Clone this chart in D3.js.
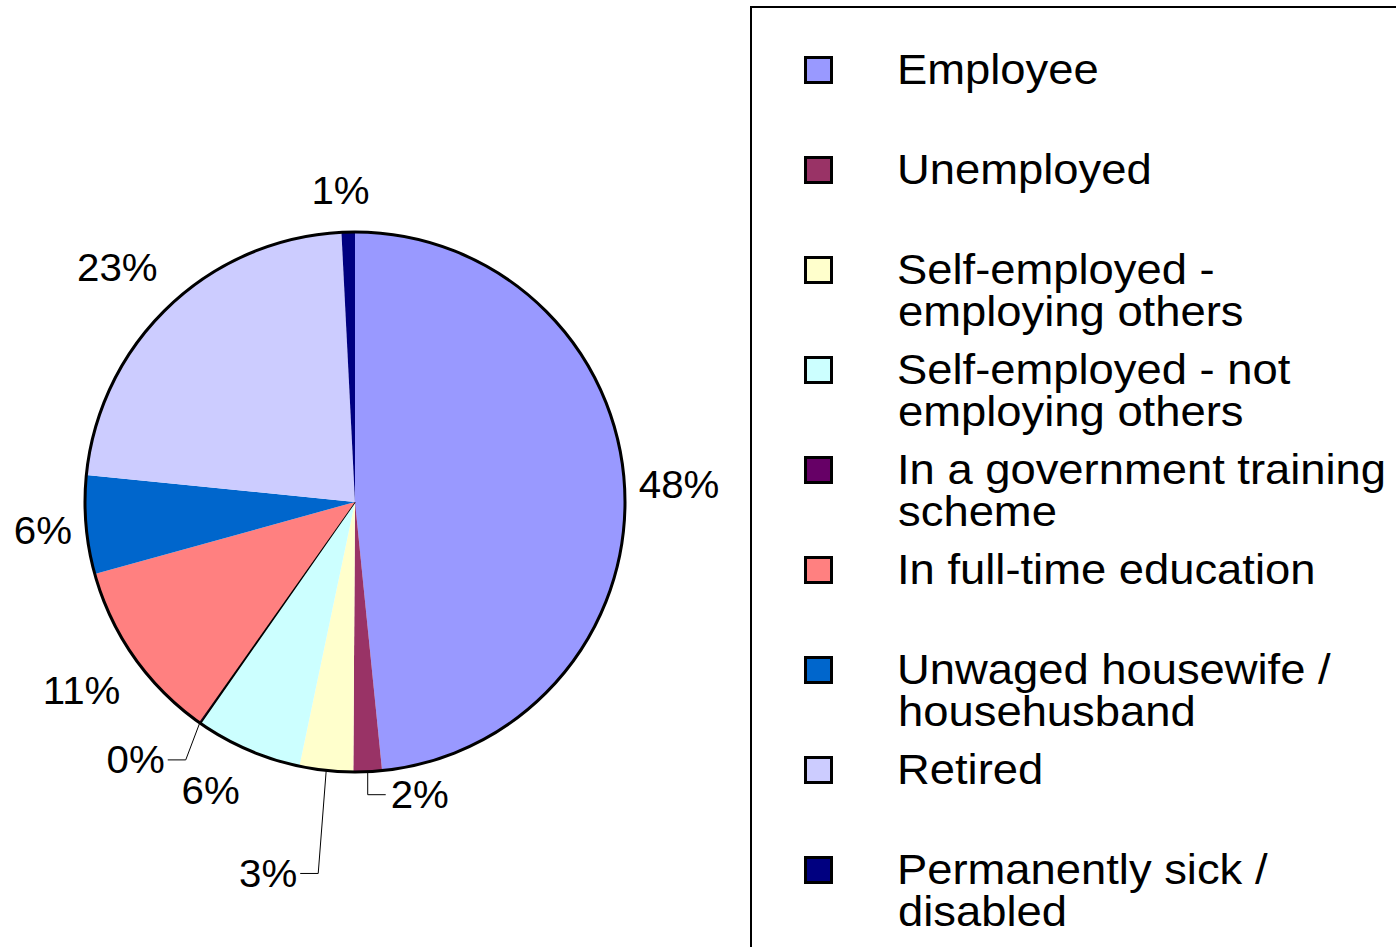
<!DOCTYPE html>
<html>
<head>
<meta charset="utf-8">
<title>Economic activity</title>
<script src="https://d3js.org/d3.v7.min.js"></script>
<style type="text/css">
	body { margin: 0; background: #fff; overflow: hidden; }
	svg text { font-family: "Liberation Sans", Arial, sans-serif; fill: #000; }
	.pct { font-size: 38px; }
	.leg { font-size: 42px; }
</style>
</head>
<body>
<div id="chart"></div>
<script type="text/javascript">

// categories, in drawing order (clockwise from 12 o'clock)
var categories = [
	"Employee",
	"Unemployed",
	"Self-employed - employing others",
	"Self-employed - not employing others",
	"In a government training scheme",
	"In full-time education",
	"Unwaged housewife / househusband",
	"Retired",
	"Permanently sick / disabled"
];

// legend text, split the way the original wraps it
var legendLines = [
	["Employee"],
	["Unemployed"],
	["Self-employed -", "employing others"],
	["Self-employed - not", "employing others"],
	["In a government training", "scheme"],
	["In full-time education"],
	["Unwaged housewife /", "househusband"],
	["Retired"],
	["Permanently sick /", "disabled"]
];

// share of respondents, %
var values = [48.4, 1.7, 3.2, 6.4, 0.1, 10.9, 5.9, 22.6, 0.8];

var colors = ["#9999ff", "#993366", "#ffffcc", "#ccffff", "#660066",
              "#ff8080", "#0066cc", "#ccccff", "#000080"];

var width = 1396, height = 947;
var cx = 355, cy = 502, R = 270;

// label tweaks (px) and leader lines for the small slices
var nudge = [[-8, -2], [0, 0], [0, 0], [-11, 7], [0, 0], [6, 9], [8, 2], [4, -9], [-6, -6]];
var leaders = {
	1: {elbow: [0, 23], run: 18},
	2: {elbow: [-8, 103], run: -18},
	4: {elbow: [-14, 37], run: -18}
};
var stretch = 1.06;   // the original's type runs a little wide

var svg = d3.select("#chart").append("svg")
	.attr("width", width)
	.attr("height", height);

var pie = d3.pie().sort(null).value(function(d) { return d; });
var arcs = pie(values);
var arc = d3.arc().innerRadius(0).outerRadius(R);
var total = d3.sum(values);
var fmt = d3.format(".0%");

var g = svg.append("g").attr("transform", "translate(" + cx + "," + cy + ")");

g.selectAll("path.slice")
	.data(arcs).enter()
	.append("path")
	.attr("class", "slice")
	.attr("d", arc)
	.attr("fill", function(d, i) { return colors[i]; })
	.attr("stroke", function(d, i) { return i == 4 ? "#000" : "none"; })
	.attr("stroke-width", 1.5);

// outline
g.append("circle")
	.attr("r", R)
	.attr("fill", "none")
	.attr("stroke", "#000")
	.attr("stroke-width", 3);

function putText(x, y, anchor, txt) {
	g.append("text")
		.attr("class", "pct")
		.attr("transform", "translate(" + x + "," + y + ") scale(" + stretch + ",1)")
		.attr("text-anchor", anchor)
		.text(txt);
}

// percentage labels
var capH = 27;
arcs.forEach(function(d, i) {
	var a = (d.startAngle + d.endAngle) / 2;
	var s = Math.sin(a), c = Math.cos(a);
	var txt = fmt(d.value / total);
	var w = (txt.length * 0.56 + 0.33) * 38 * stretch;

	if (leaders[i]) {
		var L = leaders[i];
		var x0 = R * s, y0 = -R * c;
		var ex = x0 + L.elbow[0], ey = y0 + L.elbow[1];
		var tx = ex + L.run;
		g.append("polyline")
			.attr("points", [[x0, y0], [ex, ey], [tx, ey]].map(function(p) { return p.join(","); }).join(" "))
			.attr("fill", "none")
			.attr("stroke", "#000")
			.attr("stroke-width", 1);
		putText(tx + (L.run > 0 ? 5 : -3), ey + capH / 2, L.run > 0 ? "start" : "end", txt);
		return;
	}

	var r = R + 22;
	var px = r * s, py = -r * c;
	var kx = Math.sign(s) * Math.min(1, Math.abs(s) * 1.5);
	var ky = Math.sign(c) * Math.min(1, Math.abs(c) * 1.5);
	var lx = px + kx * w / 2 + nudge[i][0];
	var ly = py - ky * capH / 2 + nudge[i][1];
	putText(lx, ly + capH / 2, "middle", txt);
});

// legend frame (runs off the right and bottom edges)
svg.append("rect")
	.attr("x", 751)
	.attr("y", 7)
	.attr("width", 800)
	.attr("height", 1000)
	.attr("fill", "none")
	.attr("stroke", "#000")
	.attr("stroke-width", 2);

var rowY = d3.scaleBand().domain(categories).range([20, 920]);

var item = svg.selectAll("g.item")
	.data(categories).enter()
	.append("g")
	.attr("class", "item")
	.attr("transform", function(d) { return "translate(0," + (rowY(d) + rowY.bandwidth() / 2) + ")"; });

item.append("rect")
	.attr("x", 805.5)
	.attr("y", -12.5)
	.attr("width", 26)
	.attr("height", 25)
	.attr("fill", function(d, i) { return colors[i]; })
	.attr("stroke", "#000")
	.attr("stroke-width", 3);

item.append("text")
	.attr("class", "leg")
	.attr("transform", "translate(897,14) scale(1.08,1)")
	.selectAll("tspan")
	.data(function(d, i) { return legendLines[i]; })
	.enter().append("tspan")
	.attr("x", function(d, j) { return j == 0 ? 0 : 1; })
	.attr("dy", function(d, j) { return j == 0 ? 0 : 42; })
	.text(function(d) { return d; });

</script>
</body>
</html>
